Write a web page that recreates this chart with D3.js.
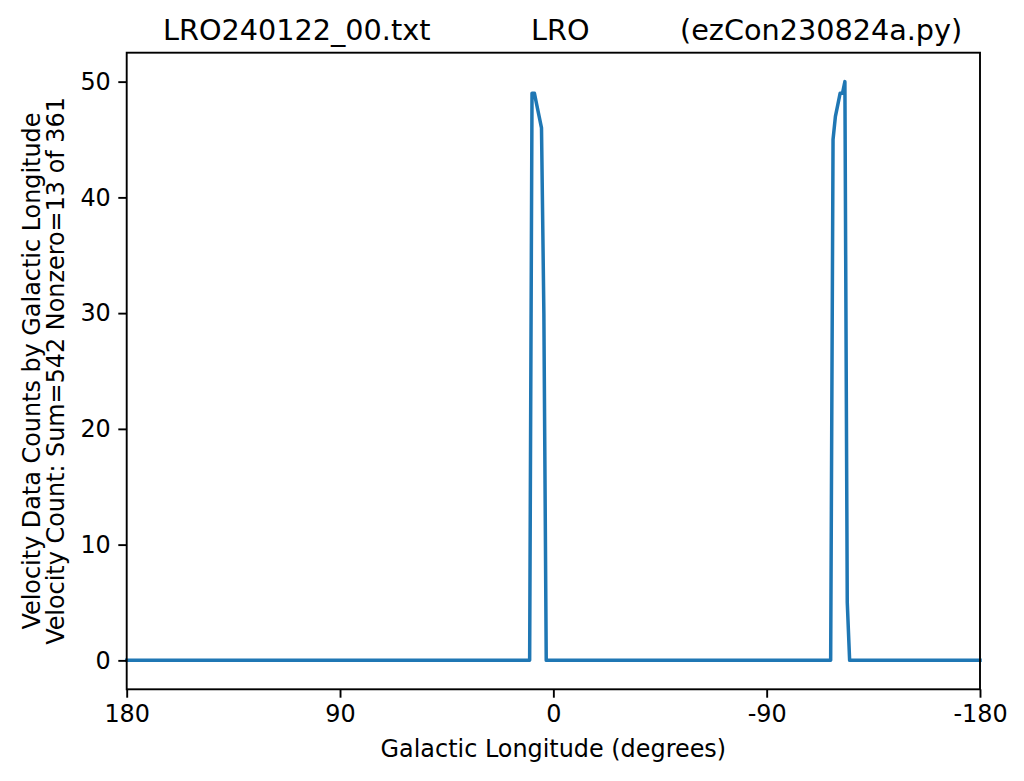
<!DOCTYPE html>
<html><head><meta charset="utf-8">
<script src="https://cdn.jsdelivr.net/npm/d3@7"></script>
<style>body{margin:0;background:#fff}text{font-family:"DejaVu Sans",sans-serif;fill:#000}</style>
</head><body><svg id="c" width="1024" height="781"></svg>
<script>
// Data
const lonMin = -180, lonMax = 180;                 // 361 one-degree bins
const nonzeroLon   = [9, 8, 7, 6, 5, 4, -118, -119, -120, -121, -122, -123, -124];
const nonzeroCount = [49, 49, 48, 47, 46, 30, 45, 47, 48, 49, 49, 50, 5];
const xTickValues = [180, 90, 0, -90, -180];
const xTickLabels = ["180", "90", "0", "-90", "-180"];
const yTickValues = [0, 10, 20, 30, 40, 50];
const titleParts = ["LRO240122_00.txt", "LRO", "(ezCon230824a.py)"];
const yLabel1 = "Velocity Data Counts by Galactic Longitude";
const yLabel2 = "Velocity Count: Sum=542 Nonzero=13 of 361";
const xLabel = "Galactic Longitude (degrees)";

const countMap = new Map(nonzeroLon.map((l, i) => [l, nonzeroCount[i]]));
const series = d3.range(lonMax, lonMin - 1, -1).map(l => ({lon: l, count: countMap.get(l) || 0}));

const L = 126.7, R = 980, T = 52.7, B = 689.3;
const fs = 23.9, tfs = 28.7, tick = 8.4;
const x = d3.scaleLinear().domain([180, -180]).range([L, R]);
const y = d3.scaleLinear().domain([-2.5, 52.5]).range([B, T]);
const svg = d3.select("#c");
svg.append("rect").attr("width",1024).attr("height",781).attr("fill","#fff");

svg.append("path").datum(series)
  .attr("fill","none").attr("stroke","#1f77b4").attr("stroke-width",3.5)
  .attr("stroke-linejoin","round").attr("stroke-linecap","square")
  .attr("d", d3.line().x(d => x(d.lon)).y(d => y(d.count)));

const xAxis = svg.append("g").attr("transform",`translate(0,${B})`)
  .call(d3.axisBottom(x).tickValues(xTickValues).tickFormat((d,i)=>xTickLabels[i]).tickSize(tick).tickPadding(7).tickSizeOuter(0));
const yAxis = svg.append("g").attr("transform",`translate(${L},0)`)
  .call(d3.axisLeft(y).tickValues(yTickValues).tickSize(tick).tickPadding(7.5).tickSizeOuter(0));
[xAxis, yAxis].forEach(g => {
  g.select(".domain").remove();
  g.selectAll(".tick line").attr("stroke","#000").attr("stroke-width",1.9);
  g.selectAll(".tick text").attr("font-size",fs).attr("font-family","DejaVu Sans").attr("fill","#000");
});
svg.append("rect").attr("x",L).attr("y",T).attr("width",R-L).attr("height",B-T)
  .attr("fill","none").attr("stroke","#000").attr("stroke-width",1.9);

const titleX = [163, 531, 680];
svg.append("g").selectAll("text").data(titleParts).join("text")
  .attr("x",(d,i)=>titleX[i]).attr("y",40).attr("font-size",tfs).text(d=>d);

svg.append("text").attr("x",(L+R)/2).attr("y",757).attr("text-anchor","middle")
  .attr("font-size",fs).text(xLabel);
const cy = (T+B)/2;
svg.append("text").attr("transform",`translate(40,${cy}) rotate(-90)`).attr("text-anchor","middle")
  .attr("font-size",fs).text(yLabel1);
svg.append("text").attr("transform",`translate(64,${cy}) rotate(-90)`).attr("text-anchor","middle")
  .attr("font-size",fs).text(yLabel2);
</script></body></html>
